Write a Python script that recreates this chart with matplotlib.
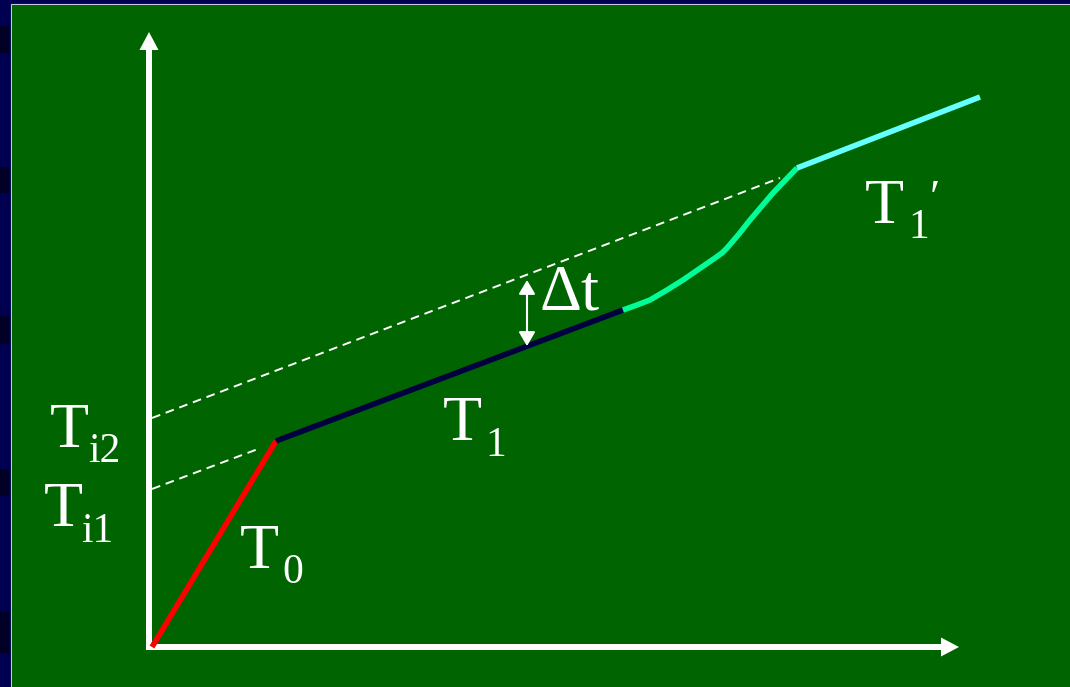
import matplotlib
matplotlib.use("Agg")
import matplotlib.pyplot as plt
from matplotlib.patches import Rectangle

# Diagram coordinates: origin at the axis corner, 1 unit = 1 pixel
t0_x = [3, 127]
t0_y = [0, 206]
t1_x = [127, 474]
t1_y = [206, 337]
rise_x = [474, 488, 501, 518, 534, 550, 566, 573, 578, 590, 601, 624, 648]
rise_y = [337, 342, 347, 357, 367, 378, 389, 394, 399, 413, 427, 454, 479]
t1p_x = [648, 831]
t1p_y = [479, 550]
ext1_x = [3, 109]
ext1_y = [158, 198]
ext2_x = [3, 631]
ext2_y = [229, 469]
dt_x = 378
dt_y = [301, 367]

# labels: (main, sub, x, y, sub_x, sub_y)
labels = [
    ("T", "i2", -99, 200, -61, 185),
    ("T", "i1", -105, 121, -68, 105),
    ("T", "0", 91, 79, 133, 64),
    ("T", "1", 294, 207, 336, 191),
    ("T", "1", 716, 424, 759, 409),
]

navy = "#000050"
green_bg = "#006400"

fig = plt.figure(figsize=(10.7, 6.87), dpi=100, facecolor=navy)
ax = fig.add_axes([0, 0, 1, 1])
ax.set_xlim(-149, 921)
ax.set_ylim(-40, 647)
ax.set_axis_off()

# slide background
for y0, y1 in [(594, 621), (454, 480), (303, 331), (151, 178), (-6, 35)]:
    ax.add_patch(Rectangle((-149, y0), 9, y1 - y0, color="#000026", lw=0))
ax.add_patch(Rectangle((-138, -41), 1070, 684, facecolor="none",
                       edgecolor="#c8c8e0", lw=0.8))
ax.add_patch(Rectangle((-137, -41), 1070, 683, color=green_bg, lw=0))

# axes with arrows
ax.arrow(-3, 0, 813, 0, width=6, head_width=19, head_length=18,
         length_includes_head=True, color="white", lw=0)
ax.arrow(0, -3, 0, 618, width=6, head_width=19, head_length=18,
         length_includes_head=True, color="white", lw=0)

# dashed extrapolations
ax.plot(ext1_x, ext1_y, color="white", lw=1.4, dashes=(4.5, 3))
ax.plot(ext2_x, ext2_y, color="white", lw=1.4, dashes=(4.5, 3))

# temperature curve
ax.plot(t0_x, t0_y, color="#ff0000", lw=4, solid_capstyle="butt")
ax.plot(t1_x, t1_y, color="#000040", lw=4, solid_capstyle="butt")
ax.plot(rise_x, rise_y, color="#00ff99", lw=4, solid_capstyle="butt",
        solid_joinstyle="round")
ax.plot(t1p_x, t1p_y, color="#66ffff", lw=4, solid_capstyle="butt")

# delta t arrow
ax.annotate("", xy=(dt_x, dt_y[1]), xytext=(dt_x, dt_y[0]),
            arrowprops=dict(arrowstyle="<|-|>,head_length=0.85,head_width=0.5",
                            color="white", lw=1.5, shrinkA=0, shrinkB=0))

font = ["Liberation Serif", "DejaVu Serif"]
for main, sub, x, y, sx, sy in labels:
    ax.text(x, y, main, family=font, fontsize=46, color="white",
            ha="left", va="baseline")
    ax.text(sx, sy, sub, family=font, fontsize=30, color="white",
            ha="left", va="baseline")
ax.text(781, 467, "\u2032", family=font, fontsize=34, color="white",
        ha="left", va="top")
ax.text(391, 337, "\u0394t", family=font, fontsize=47, color="white",
        ha="left", va="baseline")

fig.savefig("out.png", dpi=100, facecolor=navy)
